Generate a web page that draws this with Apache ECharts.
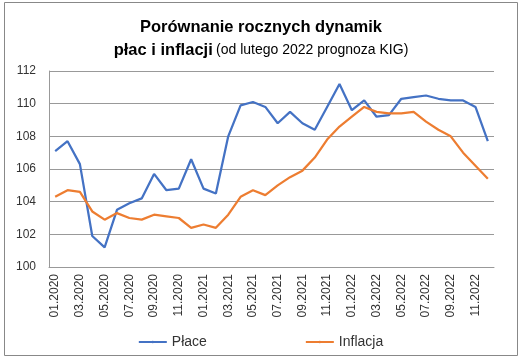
<!DOCTYPE html>
<html><head><meta charset="utf-8">
<script src="https://cdn.jsdelivr.net/npm/echarts@6/dist/echarts.min.js"></script>
<style>html,body{margin:0;padding:0;background:#fff}#c{width:521px;height:364px}</style>
</head><body><div id="c"></div>
<script>
const categories = ["01.2020","02.2020","03.2020","04.2020","05.2020","06.2020","07.2020","08.2020","09.2020","10.2020","11.2020","12.2020",
"01.2021","02.2021","03.2021","04.2021","05.2021","06.2021","07.2021","08.2021","09.2021","10.2021","11.2021","12.2021",
"01.2022","02.2022","03.2022","04.2022","05.2022","06.2022","07.2022","08.2022","09.2022","10.2022","11.2022","12.2022"];
const place = [107.1,107.7,106.3,101.9,101.2,103.5,103.9,104.2,105.7,104.7,104.8,106.6,
104.8,104.5,108.0,109.9,110.1,109.8,108.8,109.5,108.8,108.4,109.8,111.2,
109.6,110.2,109.2,109.3,110.3,110.4,110.5,110.3,110.2,110.2,109.8,107.7];
const inflacja = [104.3,104.7,104.6,103.4,102.9,103.3,103.0,102.9,103.2,103.1,103.0,102.4,
102.6,102.4,103.2,104.3,104.7,104.4,105.0,105.5,105.9,106.7,107.8,108.6,
109.2,109.8,109.5,109.4,109.4,109.5,108.9,108.4,108.0,107.0,106.2,105.4];
const yTicks = {min:100, max:112, interval:2};

const chart = echarts.init(document.getElementById('c'), null, {renderer:'canvas'});
const font = 'Liberation Sans';
chart.setOption({
  animation:false,
  backgroundColor:'#fff',
  graphic:[
    {type:'rect', shape:{x:4.5,y:2.5,width:513,height:353}, style:{fill:'none', stroke:'#888', lineWidth:1}, silent:true},
    {type:'text', x:261, y:27, style:{text:'Porównanie rocznych dynamik', font:'bold 16.5px "Liberation Sans"', fill:'#000', align:'center', verticalAlign:'middle'}},
    {type:'text', x:261, y:50, style:{text:'{b|płac i inflacji} {n|(od lutego 2022 prognoza KIG)}', align:'center', verticalAlign:'middle',
      rich:{b:{fontFamily:font, fontSize:16.5, fontWeight:'bold', fill:'#000'}, n:{fontFamily:font, fontSize:14, fontWeight:'normal', fill:'#000'}}}}
  ],
  legend:{
    bottom:10, left:'center', itemGap:98, itemWidth:28, itemHeight:3,
    textStyle:{fontFamily:font, fontSize:14, color:'#333'},
    data:[{name:'Płace'},{name:'Inflacja'}]
  },
  grid:{left:49, right:27, top:71, bottom:97, containLabel:false},
  xAxis:{
    type:'category', data:categories, boundaryGap:true,
    axisLine:{lineStyle:{color:'#999'}},
    axisTick:{show:false},
    axisLabel:{interval:1, rotate:90, fontFamily:font, fontSize:12, color:'#333', margin:7}
  },
  yAxis:{
    type:'value', min:yTicks.min, max:yTicks.max, interval:yTicks.interval,
    axisLine:{show:true, lineStyle:{color:'#999'}},
    axisTick:{show:false},
    axisLabel:{fontFamily:font, fontSize:12, color:'#333', margin:13},
    splitLine:{lineStyle:{color:'#999', width:1}}
  },
  series:[
    {name:'Płace', type:'line', data:place, symbol:'none', lineStyle:{color:'#4472C4', width:2.25}, itemStyle:{color:'#4472C4'}},
    {name:'Inflacja', type:'line', data:inflacja, symbol:'none', lineStyle:{color:'#ED7D31', width:2.25}, itemStyle:{color:'#ED7D31'}}
  ]
});
</script></body></html>
